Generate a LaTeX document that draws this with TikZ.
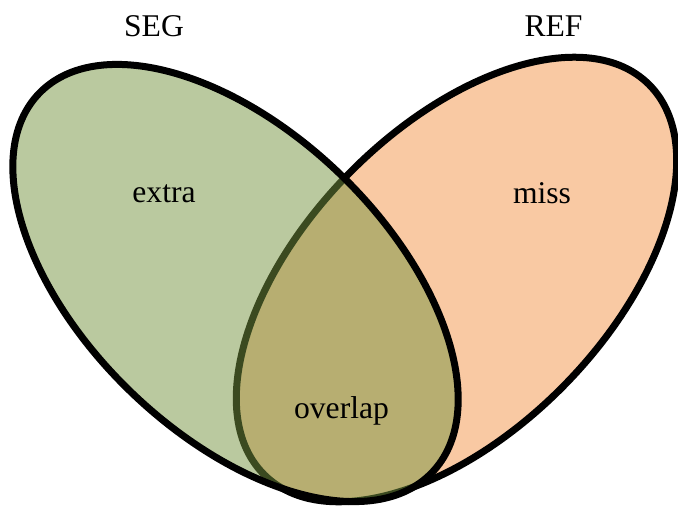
\documentclass[tikz,border=0pt]{standalone}
\usepackage{fontspec}
\setmainfont{Liberation Serif}
\usepackage{xcolor}
\usepackage{tikz}
\usetikzlibrary{positioning}

\definecolor{segcolor}{RGB}{118,148,64}
\definecolor{refcolor}{RGB}{249,201,163}

\begin{document}
\begin{tikzpicture}[
	x=0.02cm,
	y=0.02cm,
	label/.style={
		font=\fontsize{18}{22}\selectfont,
		anchor=base,
		inner sep=0pt
	}
]
	\useasboundingbox (0,0) rectangle (678,512);
	% REF
	\draw[
		line width=0.14cm,
		fill=refcolor,
		rotate around={45.5:(456.5,232.5)}
	] (456.5,232.5) ellipse [x radius=274, y radius=151];
	% SEG
	\draw[
		line width=0.14cm,
		fill=segcolor,
		fill opacity=0.5,
		rotate around={-44:(235.5,229)}
	] (235.5,229) ellipse [x radius=273, y radius=151];

	% Beschriftung
	\node[label] (seg)     at (154,476)   {SEG};
	\node[label] (ref)     at (553.5,476) {REF};
	\node[label] (extra)   at (164,310)   {extra};
	\node[label] (miss)    at (542,309)   {miss};
	\node[label] (overlap) at (341.5,94)  {overlap};
\end{tikzpicture}
\end{document}
